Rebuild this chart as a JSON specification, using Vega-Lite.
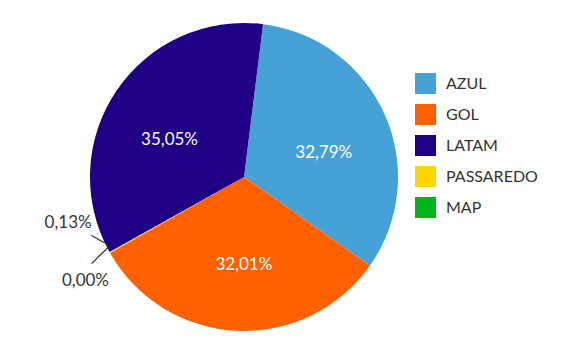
{
  "$schema": "https://vega.github.io/schema/vega-lite/v6.json",
  "width": 488,
  "height": 350,
  "autosize": {"type": "none"},
  "padding": {"left": 0, "top": 2, "right": 90, "bottom": 0},
  "background": "white",
  "config": {
    "view": {"stroke": null},
    "font": "Lato",
    "locale": {"number": {"decimal": ",", "thousands": ".", "grouping": [3], "currency": ["R$", ""]}}
  },
  "data": {
    "values": [
      {"cia": "AZUL", "valor": 0.3279, "ordem": 1},
      {"cia": "GOL", "valor": 0.3201, "ordem": 2},
      {"cia": "MAP", "valor": 0.0, "ordem": 3},
      {"cia": "PASSAREDO", "valor": 0.0013, "ordem": 4},
      {"cia": "LATAM", "valor": 0.3505, "ordem": 5}
    ]
  },
  "encoding": {
    "theta": {"field": "valor", "type": "quantitative", "stack": true, "scale": {"range": [0.124, 6.407]}},
    "order": {"field": "ordem", "type": "quantitative"}
  },
  "layer": [
    {
      "mark": {"type": "arc", "outerRadius": 154, "strokeWidth": 0},
      "encoding": {
        "color": {
          "field": "cia",
          "type": "nominal",
          "scale": {
            "domain": ["AZUL", "GOL", "LATAM", "PASSAREDO", "MAP"],
            "range": ["#46A2D6", "#FF6000", "#1F0085", "#FFD700", "#00B51C"]
          },
          "legend": {
            "title": null,
            "orient": "none",
            "legendX": 415,
            "legendY": 71,
            "padding": 0,
            "symbolType": "square",
            "symbolSize": 441,
            "symbolStrokeWidth": 0,
            "symbolOpacity": 1,
            "rowPadding": 10,
            "labelOffset": 10,
            "labelFontSize": 16,
            "labelColor": "#333333",
            "labelFont": "Lato"
          }
        }
      }
    },
    {
      "mark": {"type": "text", "radius": 85, "fontSize": 17, "color": "white", "align": "center", "baseline": "middle", "dx": 2, "dy": 10},
      "encoding": {
        "text": {"field": "valor", "type": "quantitative", "format": ".2%"},
        "opacity": {"condition": {"test": "datum.cia == 'AZUL'", "value": 1}, "value": 0}
      }
    },
    {
      "mark": {"type": "text", "radius": 85, "fontSize": 17, "color": "white", "align": "center", "baseline": "middle", "dx": 4, "dy": 3},
      "encoding": {
        "text": {"field": "valor", "type": "quantitative", "format": ".2%"},
        "opacity": {"condition": {"test": "datum.cia == 'GOL'", "value": 1}, "value": 0}
      }
    },
    {
      "mark": {"type": "text", "radius": 85, "fontSize": 17, "color": "white", "align": "center", "baseline": "middle", "dx": -4, "dy": 11},
      "encoding": {
        "text": {"field": "valor", "type": "quantitative", "format": ".2%"},
        "opacity": {"condition": {"test": "datum.cia == 'LATAM'", "value": 1}, "value": 0}
      }
    },
    {
      "mark": {"type": "text", "radius": 180, "fontSize": 17, "color": "#333333", "align": "center", "baseline": "middle", "dx": -19, "dy": -42},
      "encoding": {
        "text": {"field": "valor", "type": "quantitative", "format": ".2%"},
        "opacity": {"condition": {"test": "datum.cia == 'PASSAREDO'", "value": 1}, "value": 0}
      }
    },
    {
      "mark": {"type": "text", "radius": 180, "fontSize": 17, "color": "#333333", "align": "center", "baseline": "middle", "dx": -2, "dy": 15},
      "encoding": {
        "text": {"field": "valor", "type": "quantitative", "format": ".2%"},
        "opacity": {"condition": {"test": "datum.cia == 'MAP'", "value": 1}, "value": 0}
      }
    },
    {
      "mark": {"type": "text", "radius": 180, "font": "DejaVu Sans", "fontSize": 12, "color": "#222222", "align": "center", "baseline": "middle", "angle": 29, "dx": 0, "dy": -28},
      "encoding": {
        "text": {"value": "───"},
        "opacity": {"condition": {"test": "datum.cia == 'PASSAREDO'", "value": 1}, "value": 0}
      }
    },
    {
      "mark": {"type": "text", "radius": 180, "font": "DejaVu Sans", "fontSize": 14, "color": "#222222", "align": "center", "baseline": "middle", "angle": -45, "dx": 17, "dy": 3},
      "encoding": {
        "text": {"value": "───"},
        "opacity": {"condition": {"test": "datum.cia == 'PASSAREDO'", "value": 1}, "value": 0}
      }
    }
  ]
}
